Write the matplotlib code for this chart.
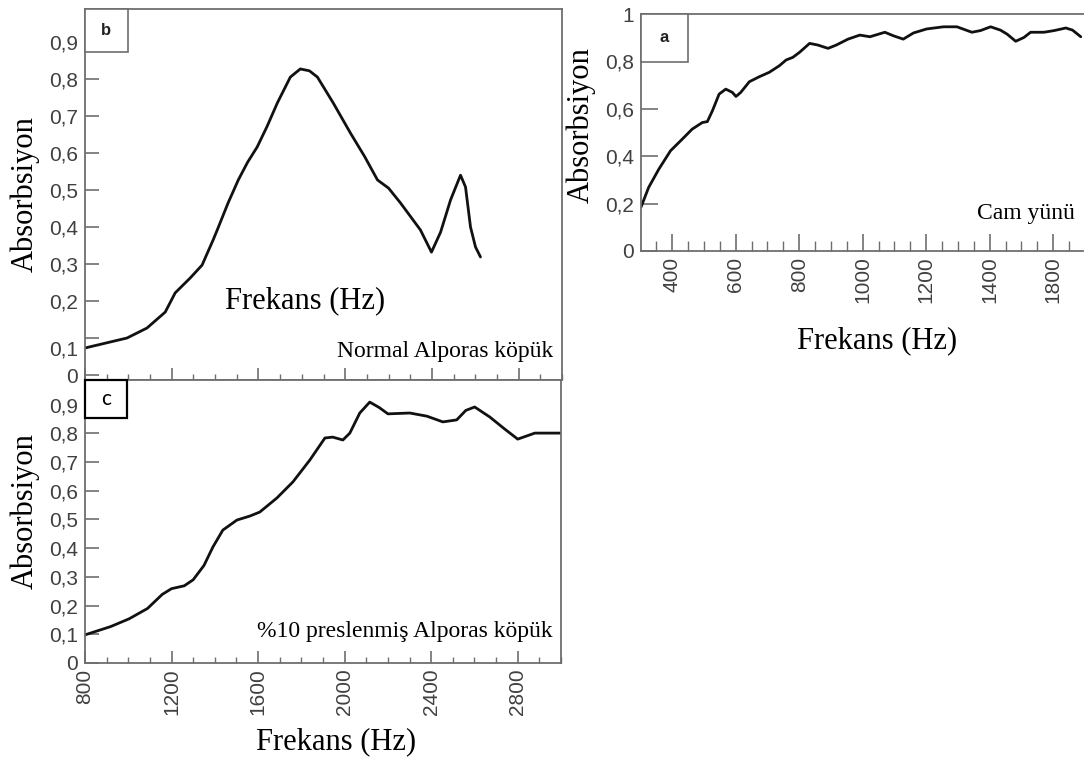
import matplotlib
matplotlib.use("Agg")
import matplotlib.pyplot as plt
import matplotlib.transforms as mtransforms
from matplotlib.patches import Rectangle
from matplotlib.ticker import FixedLocator, MultipleLocator

# ---- data ----
# b: Normal Alporas foam
b_freq = [800, 915, 994, 1086, 1170, 1216, 1285, 1340, 1391, 1410, 1460, 1507, 1550, 1594,
          1640, 1687, 1747, 1793, 1835, 1872, 1945, 2024, 2090, 2149, 2200, 2255, 2347,
          2398, 2440, 2486, 2532, 2555, 2578, 2601, 2624]
b_abs = [0.073, 0.089, 0.100, 0.127, 0.170, 0.222, 0.262, 0.297, 0.365, 0.392, 0.465, 0.527,
         0.575, 0.616, 0.672, 0.735, 0.805, 0.827, 0.822, 0.805, 0.735, 0.654, 0.590, 0.527,
         0.505, 0.465, 0.392, 0.332, 0.386, 0.473, 0.540, 0.508, 0.400, 0.346, 0.319]

# c: %10 pressed Alporas foam
c_freq = [800, 919, 1004, 1089, 1157, 1200, 1259, 1300, 1350, 1391, 1437, 1502, 1562, 1608,
          1687, 1761, 1839, 1909, 1945, 1992, 2024, 2070, 2116, 2160, 2200, 2301, 2380,
          2454, 2518, 2560, 2601, 2671, 2740, 2800, 2879, 3000]
c_abs = [0.098, 0.127, 0.154, 0.190, 0.239, 0.259, 0.269, 0.290, 0.340, 0.404, 0.463, 0.498,
         0.512, 0.526, 0.575, 0.631, 0.707, 0.784, 0.787, 0.777, 0.801, 0.871, 0.909, 0.890,
         0.868, 0.871, 0.860, 0.840, 0.847, 0.880, 0.892, 0.857, 0.815, 0.780, 0.801, 0.801]

# a: glass wool
a_freq = [302, 326, 358, 395, 432, 463, 495, 511, 527, 548, 569, 590, 601, 616, 643, 674, 706,
          738, 759, 780, 801, 833, 859, 891, 917, 954, 991, 1023, 1070, 1097, 1128, 1160,
          1202, 1255, 1297, 1344, 1371, 1403, 1434, 1455, 1482, 1508, 1529, 1571, 1603,
          1640, 1661, 1687]
a_abs = [0.185, 0.268, 0.345, 0.423, 0.472, 0.514, 0.542, 0.546, 0.592, 0.662, 0.683, 0.669,
         0.652, 0.669, 0.714, 0.735, 0.754, 0.782, 0.806, 0.817, 0.838, 0.876, 0.869, 0.855,
         0.869, 0.894, 0.911, 0.904, 0.923, 0.908, 0.894, 0.920, 0.937, 0.946, 0.946, 0.923,
         0.930, 0.946, 0.932, 0.915, 0.885, 0.901, 0.923, 0.923, 0.930, 0.941, 0.932, 0.904]

bc_yticks = [0, 0.1, 0.2, 0.3, 0.4, 0.5, 0.6, 0.7, 0.8, 0.9]
bc_ylabels = ["0", "0,1", "0,2", "0,3", "0,4", "0,5", "0,6", "0,7", "0,8", "0,9"]
c_xticks = [800, 1200, 1600, 2000, 2400, 2800]
c_xlabels = ["800", "1200", "1600", "2000", "2400", "2800"]
a_yticks = [0, 0.2, 0.4, 0.6, 0.8, 1.0]
a_ylabels = ["0", "0,2", "0,4", "0,6", "0,8", "1"]
a_xticks = [400, 600, 800, 1000, 1200, 1400, 1600]
a_xlabels = ["400", "600", "800", "1000", "1200", "1400", "1800"]

W, H = 1084, 763
SERIF = "Liberation Serif"
SANS = "Liberation Sans"
SPINE = "#6e6e6e"
TICKC = "#404040"

fig = plt.figure(figsize=(W / 100, H / 100), dpi=100)


def px_axes(l, t, r, b):
    return fig.add_axes([l / W, 1 - b / H, (r - l) / W, (b - t) / H])


def fig_text(x, y, s, **kw):
    fig.text(x / W, 1 - y / H, s, ha="center", va="center", **kw)


def style(ax, ylen, xmaj, xmin):
    for sp in ax.spines.values():
        sp.set_color(SPINE)
        sp.set_linewidth(1.3)
    ax.tick_params(axis="y", direction="in", length=ylen, width=1.2, color=SPINE,
                   pad=5, labelsize=15, labelcolor=TICKC)
    ax.tick_params(axis="x", which="major", direction="in", length=xmaj, width=1.2,
                   color=SPINE, pad=4, labelsize=15, labelcolor=TICKC)
    ax.tick_params(axis="x", which="minor", direction="in", length=xmin, width=1.0,
                   color=SPINE)
    for lab in ax.get_xticklabels() + ax.get_yticklabels():
        lab.set_fontfamily(SANS)


def tag(ax, w, h, s, ec, lw, **kw):
    ax.add_patch(Rectangle((0, 1 - h), w, h, transform=ax.transAxes, facecolor="white",
                           edgecolor=ec, linewidth=lw, zorder=5, clip_on=False))
    ax.text(w / 2, 1 - h / 2, s, transform=ax.transAxes, ha="center", va="center",
            zorder=6, **kw)


line_kw = dict(color="#111111", lw=2.0, solid_joinstyle="round", solid_capstyle="round")

# ---- panel b ----
axb = px_axes(85, 9, 562, 380)
axb.plot(b_freq, b_abs, **line_kw)
axb.set_xlim(800, 3000)
axb.set_ylim(-0.0135, 0.989)
axb.set_yticks(bc_yticks, bc_ylabels)
axb.xaxis.set_major_locator(FixedLocator(c_xticks))
axb.xaxis.set_minor_locator(MultipleLocator(100))
axb.set_xticklabels([])
style(axb, 10, 9, 4)
# "0,1" sits a bit low in the original
lab01 = axb.get_yticklabels()[1]
lab01.set_transform(lab01.get_transform() + mtransforms.ScaledTranslation(0, -0.1, fig.dpi_scale_trans))
tag(axb, 43 / 477, 43 / 371, "b", SPINE, 1.2, fontsize=12, fontweight="bold",
    family=SANS, color="#222222")

# ---- panel c ----
axc = px_axes(85, 380, 561, 663)
axc.plot(c_freq, c_abs, **line_kw)
axc.set_xlim(800, 3000)
axc.set_ylim(0, 0.986)
axc.set_yticks(bc_yticks, bc_ylabels)
axc.set_xticks(c_xticks, c_xlabels, rotation=90)
axc.xaxis.set_minor_locator(MultipleLocator(100))
style(axc, 10, 9, 4)
tag(axc, 42 / 476, 38 / 283, "c", "black", 1.6, fontsize=15, family="Lato",
    color="black")

# ---- panel a ----
axa = px_axes(641, 14, 1083, 251)
axa.plot(a_freq, a_abs, **line_kw)
axa.set_xlim(302, 1694)
axa.set_ylim(0, 1.0)
axa.set_yticks(a_yticks, a_ylabels)
axa.set_xticks(a_xticks, a_xlabels, rotation=90)
axa.xaxis.set_minor_locator(MultipleLocator(50))
style(axa, 12, 12, 7)
axa.spines["right"].set_visible(False)
tag(axa, 47 / 442, 48 / 237, "a", SPINE, 1.2, fontsize=12, fontweight="bold",
    family=SANS, color="#222222")

# ---- texts ----
fig_text(25, 194, "Absorbsiyon", rotation=90, fontsize=22, family=SERIF)
fig_text(25, 511, "Absorbsiyon", rotation=90, fontsize=22, family=SERIF)
fig_text(581, 125, "Absorbsiyon", rotation=90, fontsize=22, family=SERIF)
fig_text(305, 301, "Frekans (Hz)", fontsize=22, family=SERIF)
fig_text(877, 341, "Frekans (Hz)", fontsize=22, family=SERIF)
fig_text(336, 742, "Frekans (Hz)", fontsize=22, family=SERIF)
fig_text(445, 352, "Normal Alporas köpük", fontsize=17, family=SERIF)
fig_text(405, 632, "%10 preslenmiş Alporas köpük", fontsize=17, family=SERIF)
fig_text(1026, 213, "Cam yünü", fontsize=17, family=SERIF)

fig.savefig("out.png", dpi=100, facecolor="white")
